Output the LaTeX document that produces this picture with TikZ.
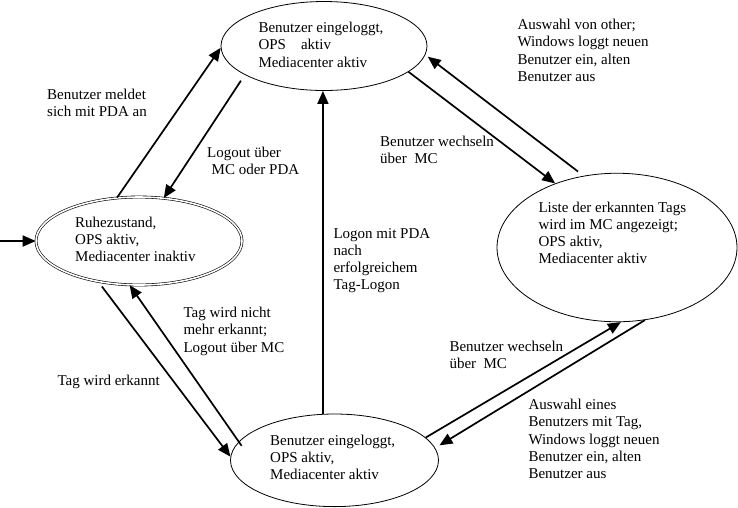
\documentclass[tikz,border=0pt]{standalone}
\usepackage{fontspec}
\setmainfont{Liberation Serif}
\usetikzlibrary{shapes.geometric,arrows.meta}
\newcommand\lblfont{\fontsize{15}{17.2}\selectfont}
\tikzset{
  state/.style={draw, ellipse, line width=0.8pt, inner sep=0pt},
  startstate/.style={draw, ellipse, line width=0.6pt, double, double distance=1.6pt, inner sep=0pt},
  lbl/.style={anchor=north west, inner sep=0pt, align=left, font=\lblfont},
  arr/.style={line width=1.7pt, -{Triangle[length=13pt,width=11pt]}},
}
\begin{document}
\begin{tikzpicture}[x=1pt,y=-1pt]
\useasboundingbox[fill=white] (0,0) rectangle (738,507);
% states
\node[state, minimum width=206pt, minimum height=89pt] (T) at (324,46) {};
\node[startstate, minimum width=206pt, minimum height=88pt] (L) at (139,241) {};
\node[state, minimum width=240pt, minimum height=148.5pt] (R) at (617,247.5) {};
\node[state, minimum width=208pt, minimum height=92.6pt] (B) at (334.5,460.3) {};
% state texts (positions = first baseline - 10.2)
\node[lbl] (Tt) at (258.3,22.1) {Benutzer eingeloggt,\\OPS~~~~aktiv\\Mediacenter aktiv};
\node[lbl] (Lt) at (75,216.8) {Ruhezustand,\\OPS aktiv,\\Mediacenter inaktiv};
\node[lbl] (Rt) at (538.3,201.5) {Liste der erkannten Tags\\wird im MC angezeigt;\\OPS aktiv,\\Mediacenter aktiv};
\node[lbl] (Bt) at (270,434.8) {Benutzer eingeloggt,\\OPS aktiv,\\Mediacenter aktiv};
% edge labels
\node[lbl] (l1) at (47,88.8) {Benutzer meldet\\sich mit PDA an};
\node[lbl] (l2) at (207,147.1) {Logout über\\\hspace*{4.5pt}MC oder PDA};
\node[lbl] (l3) at (380,135.8) {Benutzer wechseln\\über~~MC};
\node[lbl] (l4) at (517.3,19.1) {Auswahl von other;\\Windows loggt neuen\\Benutzer ein, alten\\Benutzer aus};
\node[lbl] (l5) at (333.3,228.1) {Logon mit PDA\\nach\\erfolgreichem\\Tag-Logon};
\node[lbl] (l6) at (183.3,307.1) {Tag wird nicht\\mehr erkannt;\\Logout über MC};
\node[lbl] (l7) at (57.3,374.8) {Tag wird erkannt};
\node[lbl] (l8) at (449.3,340.5) {Benutzer wechseln\\über~~MC};
\node[lbl] (l9) at (528.3,399.1) {Auswahl eines\\Benutzers mit Tag,\\Windows loggt neuen\\Benutzer ein, alten\\Benutzer aus};
% connectors
\coordinate (init) at (0,241);
\draw[arr] (init) -- (L.west);
\draw[arr] (L.117) -- (T.181);
\draw[arr, shorten <=7pt] (T.200.6) -- (L.60.5);
\draw[arr] (T.343.3) -- (R.134.8);
\draw[arr, shorten <=7pt, shorten >=3pt] (R.115.7) -- (T.355.1);
\draw[arr] (B.104.4) -- (B.104.4 |- T.south);
\draw[arr, shorten <=6pt] (L.225.2) -- (B.178.9);
\draw[arr, shorten <=-5pt] (B.169.5) -- (L.258.9);
\draw[arr] (B.14.6) -- (R.273.9);
\draw[arr, shorten >=5pt] (R.291) -- (B.7.3);
\end{tikzpicture}
\end{document}
